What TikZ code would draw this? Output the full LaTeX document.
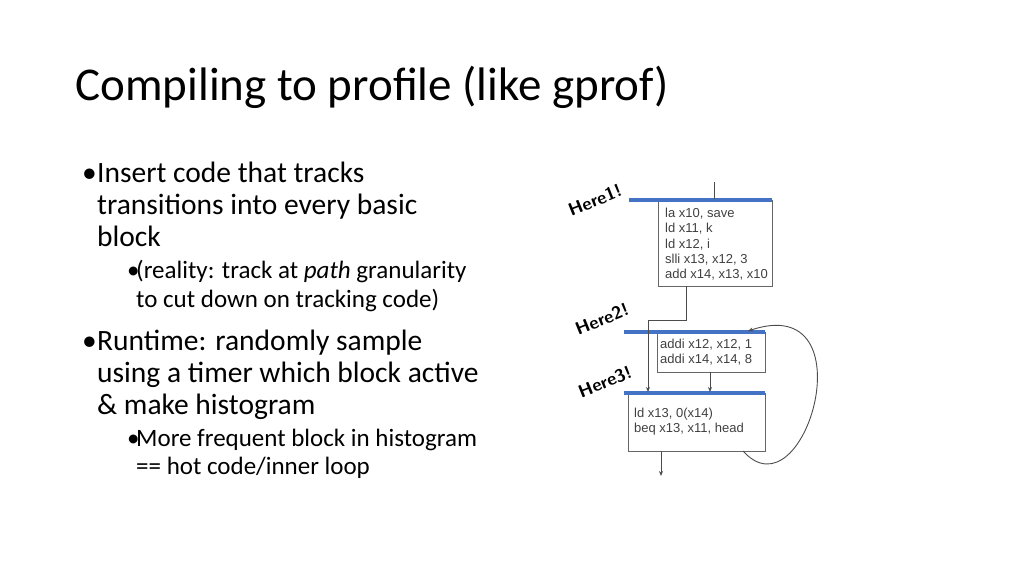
\documentclass[tikz,border=0pt]{standalone}
\usepackage{fontspec}
\setmainfont{Carlito}
\newfontfamily\codefont{Liberation Sans}
\usetikzlibrary{arrows.meta}

\tikzset{
  title/.style={anchor=base west, font=\fontsize{47}{50}\selectfont},
  mainline/.style={anchor=base west, inner sep=0pt, font=\fontsize{29.5}{32}\selectfont},
  subline/.style={anchor=base west, inner sep=0pt, font=\fontsize{25}{28}\selectfont},
  bblock/.style={draw=black!60, line width=0.8pt},
  bar/.style={draw={rgb,255:red,68;green,114;blue,196}, line width=3.5pt},
  code/.style={anchor=north west, align=left, inner sep=0pt, font=\codefont\fontsize{13}{15.2}\selectfont, text=black!75},
  flow/.style={draw=black!70, line width=0.9pt, -{Stealth[length=5pt,width=4pt]}},
  here/.style={font=\sffamily\bfseries\fontsize{18}{18}\selectfont, rotate=22},
}

\begin{document}
\begin{tikzpicture}[x=1pt, y=-1pt]
\useasboundingbox (0,0) rectangle (1024,576);

% title
\node[title] (ttl) at (72,100) {Compiling to profile (like gprof)};

% bullets
\node[mainline] (b1) at (82,182) {\textbullet};
\node[mainline] (l1) at (97,182) {Insert code that tracks};
\node[mainline] (l2) at (97,214) {transitions into every basic};
\node[mainline] (l3) at (97,246) {block};
\node[subline] (s1b) at (127,278) {\textbullet};
\node[subline] (s1) at (136,278) {(reality: track at \textit{path} granularity};
\node[subline] (s2) at (136,307) {to cut down on tracking code)};
\node[mainline] (b2) at (82,350) {\textbullet};
\node[mainline] (l4) at (97,350) {Runtime: randomly sample};
\node[mainline] (l5) at (97,382) {using a timer which block active};
\node[mainline] (l6) at (97,414) {\& make histogram};
\node[subline] (s3b) at (127,446) {\textbullet};
\node[subline] (s3) at (136,446) {More frequent block in histogram};
\node[subline] (s4) at (136,474) {== hot code/inner loop};

% basic blocks
\draw[bblock] (658,200) rectangle (772,286);
\draw[bblock] (657,332) rectangle (765,372);
\draw[bblock] (628,393) rectangle (765,451);
\draw[bar] (629,200) -- (772,200);
\draw[bar] (624,332) -- (765,332);
\draw[bar] (624,393) -- (765,393);

\node[code] (c1) at (665,208) {la x10, save\\ld x11, k\\ld x12, i\\slli x13, x12, 3\\add x14, x13, x10};
\node[code] (c2) at (660,339) {addi x12, x12, 1\\addi x14, x14, 8};
\node[code] (c3) at (634,408) {ld x13, 0(x14)\\beq x13, x11, head};

% edges
\coordinate (in) at (714,182);
\coordinate (in1) at (714,199);
\coordinate (out1) at (686,286);
\coordinate (in3a) at (648,392);
\coordinate (out2) at (710,372);
\coordinate (in3b) at (710,392);
\coordinate (out3) at (661,451);
\coordinate (exit) at (661,476);
\coordinate (loopa) at (743,451);
\coordinate (loopb) at (748,331);
\draw[draw=black!70, line width=0.9pt] (in) -- (in1);
\draw[flow] (out1) -- (686,320) -| (in3a);
\draw[flow] (out2) -- (in3b);
\draw[flow] (out3) -- (exit);
\draw[flow] (loopa) .. controls (805,520) and (870,290) .. (loopb);

% labels
\node[here] (h1) at (595,200) {Here1!};
\node[here] (h2) at (602,319) {Here2!};
\node[here] (h3) at (605,382) {Here3!};
\end{tikzpicture}
\end{document}
